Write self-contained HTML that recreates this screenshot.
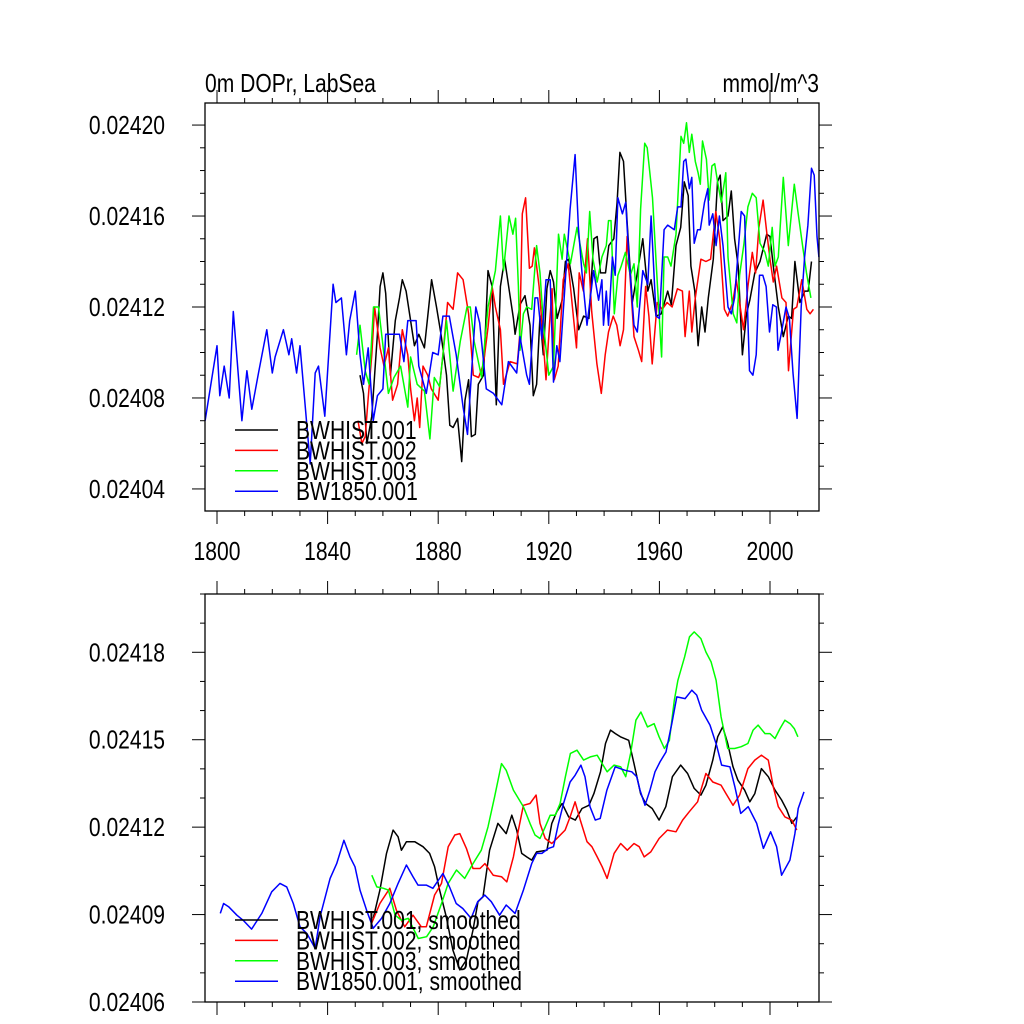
<!DOCTYPE html>
<html><head><meta charset="utf-8"><style>
html,body{margin:0;padding:0;background:#fff;}
svg{display:block;font-family:"Liberation Sans",sans-serif;}
</style></head><body>
<svg id="chart" width="1024" height="1024" viewBox="0 0 1024 1024" xmlns="http://www.w3.org/2000/svg">
<rect x="0" y="0" width="1024" height="1024" fill="#fff"/>
<text class="t" x="205" y="92" font-size="26">0m DOPr, LabSea</text>
<text class="t" x="819" y="92" font-size="26" text-anchor="end">mmol/m^3</text>
<g id="top"></g><g id="bot"></g>
</svg>
<script>
// values in units of 1e-5 mmol/m^3
const topBlackYears=[1851.7,1853,1854.2,1856,1858,1859,1860,1861,1862.7,1864.5,1866,1867,1868.4,1870,1871.4,1873,1875,1877.6,1879.4,1881,1883,1884.2,1885.4,1887,1888.5,1889.7,1891,1892,1893.4,1894.5,1896.4,1898,1899.5,1901,1902.5,1904,1905.6,1907.2,1907.8,1909.6,1911.4,1913.2,1914.4,1915.6,1916.8,1918,1919.3,1920.5,1921.7,1923,1924.8,1926,1927.2,1929,1930.8,1932.6,1934.5,1936.3,1937.5,1938.7,1940.5,1941.7,1943.5,1944.7,1945.7,1947,1948.4,1950.2,1952,1954,1955.8,1957,1958.8,1960.7,1963,1964.3,1966,1967.7,1969,1970.4,1971.4,1972.8,1974,1975.3,1976.5,1977.7,1979.5,1981,1982,1983,1984.8,1986,1987.2,1988.5,1990,1991.5,1992.7,1994.5,1996.4,1997.6,1998.8,2000,2001.2,2003,2004.8,2006.6,2007.8,2009,2010.8,2012.6,2013.8,2015];
const topBlackVals=[2409.0,2408.2,2406.0,2407.2,2410.8,2412.9,2413.5,2412.6,2409.0,2411.4,2412.4,2413.2,2412.7,2411.4,2410.3,2410.8,2410.2,2413.2,2412.0,2410.8,2409.0,2406.8,2406.7,2407.1,2405.2,2407.9,2408.8,2406.3,2406.4,2408.6,2409.0,2413.6,2412.9,2407.7,2412.9,2414.1,2412.8,2411.5,2410.8,2412.1,2412.5,2411.2,2408.1,2408.6,2411.6,2409.9,2412.8,2413.6,2413.1,2411.5,2412.3,2414.0,2414.1,2412.8,2411.0,2411.6,2411.5,2415.0,2415.1,2413.5,2413.5,2414.7,2415.0,2416.6,2418.8,2418.4,2415.6,2412.2,2413.5,2415.0,2412.7,2413.2,2411.6,2411.7,2412.7,2412.1,2414.7,2415.5,2417.5,2416.9,2413.8,2412.7,2410.3,2412.0,2410.9,2412.4,2414.1,2417.5,2417.8,2415.8,2416.0,2417.1,2415.0,2413.8,2409.9,2411.7,2412.3,2413.5,2414.0,2414.6,2415.2,2415.1,2413.8,2412.0,2410.7,2411.6,2411.5,2414.0,2412.2,2412.7,2412.7,2414.0];
const topRedYears=[1851,1852.4,1853.6,1854.7,1856,1857,1859,1860.4,1862,1863.5,1865.3,1867,1869,1870,1871.4,1872.4,1873.3,1874.5,1876.2,1877.5,1880,1881.7,1883.4,1885.4,1887,1889,1891,1892.7,1894.6,1896.4,1898,1899.5,1900.7,1902.5,1903.6,1906,1908.6,1909.5,1910.4,1911.6,1913,1914,1914.8,1916.5,1917.7,1919,1920.3,1921.2,1922,1923.4,1925.2,1927,1928.8,1930,1931,1932.5,1934,1935.5,1937.4,1939,1940.4,1941.6,1943.3,1944.6,1945.8,1947,1948.3,1949.5,1950.8,1952.4,1953.6,1955,1956.2,1957.4,1959.2,1961,1962.8,1964.6,1966.5,1968.3,1969.3,1970.8,1971.7,1973,1975,1976.8,1978.5,1980.4,1981.8,1983.5,1984.7,1986.5,1987.8,1989,1990.4,1992,1993.6,1994.8,1996,1997.5,1998.8,2000,2001.2,2002.4,2004.3,2005.8,2006.7,2008.5,2009.7,2011.5,2013.3,2014.5,2015.7];
const topRedVals=[2407.0,2406.0,2406.3,2408.0,2409.9,2412.0,2410.2,2409.4,2410.2,2407.9,2408.6,2411.0,2409.9,2408.4,2407.0,2408.0,2406.7,2409.4,2409.0,2408.4,2407.9,2409.9,2412.2,2411.9,2413.5,2413.2,2411.7,2409.0,2408.9,2409.5,2411.1,2412.9,2412.0,2411.0,2408.6,2409.6,2409.5,2410.8,2416.1,2416.8,2413.7,2413.8,2414.6,2412.9,2411.0,2408.8,2411.3,2412.8,2408.8,2409.4,2413.2,2413.9,2411.7,2410.2,2413.5,2412.7,2415.0,2411.8,2409.5,2408.2,2409.9,2410.9,2411.6,2411.2,2410.3,2411.0,2415.1,2413.1,2410.7,2410.1,2409.6,2412.9,2411.6,2409.5,2412.2,2411.9,2412.2,2412.0,2412.8,2412.7,2410.7,2412.7,2410.9,2412.4,2414.1,2414.0,2414.1,2416.2,2415.0,2411.9,2411.6,2412.2,2413.2,2412.2,2411.0,2412.9,2414.4,2413.5,2415.5,2416.7,2415.3,2414.1,2413.1,2413.8,2412.4,2412.2,2409.2,2411.9,2412.0,2413.2,2411.9,2411.7,2411.9];
const topGreenYears=[1850.5,1851.7,1853.6,1855,1856.6,1858.4,1860.4,1862,1864,1866.4,1869,1870,1872.4,1875,1877,1878.6,1880.5,1883,1885.4,1888,1890.4,1891.6,1893,1895.7,1898,1900.7,1902.5,1903.6,1905.6,1907,1908,1909,1909.6,1910.8,1912,1913.8,1915.6,1916.8,1918,1920,1921.7,1923.5,1924.8,1925.6,1927.8,1930.2,1932.6,1933.6,1934.8,1936,1937.5,1939.2,1940.8,1941.6,1942.5,1943.7,1945,1946.2,1947.7,1949.5,1950.8,1952,1953.2,1954.7,1955.6,1957.5,1959.3,1960.8,1961.7,1963,1964.2,1966,1967.8,1968.8,1969.8,1970.8,1971.7,1973,1974,1974.8,1975.6,1977,1978,1979,1980,1981.2,1982.4,1984,1984.8,1986.7,1988,1989,1990.6,1992,1993.6,1995,1996.4,1998.2,1999.4,2000.8,2001.8,2003,2004.8,2006.6,2008.8,2010.2,2012,2013.2,2014.8];
const topGreenVals=[2409.9,2411.2,2409.2,2408.6,2412.0,2412.0,2409.9,2408.2,2408.9,2409.4,2407.6,2409.8,2408.6,2408.3,2406.2,2408.9,2408.5,2411.4,2408.3,2410.5,2412.0,2412.0,2410.5,2408.9,2412.0,2413.6,2416.0,2413.6,2416.0,2415.2,2415.9,2412.9,2410.1,2411.7,2412.0,2411.9,2414.7,2413.5,2411.3,2409.0,2409.4,2415.2,2414.1,2415.2,2413.9,2415.5,2413.9,2413.5,2416.2,2414.1,2413.1,2414.2,2414.7,2415.8,2415.8,2411.7,2413.4,2413.8,2414.4,2413.4,2413.9,2412.0,2416.3,2419.2,2419.0,2416.8,2412.9,2409.8,2414.2,2414.2,2413.8,2415.2,2419.5,2419.2,2420.1,2418.8,2419.6,2418.4,2417.9,2417.4,2419.3,2418.5,2416.7,2418.2,2418.3,2417.4,2416.6,2417.9,2414.2,2411.7,2411.3,2413.4,2414.8,2416.4,2417.0,2416.8,2414.8,2414.4,2413.8,2415.5,2413.8,2414.2,2417.7,2414.7,2417.4,2416.1,2414.5,2413.5,2412.4];
const topBlueYears=[1795.7,1800,1801,1802.6,1804.4,1805.9,1809,1810.8,1812.6,1815,1818,1820,1821,1824,1826,1827,1828.8,1830,1833.7,1835.5,1836.7,1839,1842,1843,1845,1846.8,1848,1850,1851.7,1853,1854.7,1856.5,1858,1860,1861,1863.4,1866,1867.6,1869,1872,1873,1875.7,1878,1880,1881.7,1884,1886.5,1889,1890.6,1893.6,1895,1897.4,1900,1903,1905.4,1908.4,1909.6,1912,1913,1915,1916,1917.5,1919,1920.5,1921.7,1922.9,1924,1927.7,1929.5,1930.7,1932,1933.2,1933.8,1936.2,1938,1939.2,1939.8,1940.8,1941.6,1943,1944,1945,1946.6,1947.8,1949,1950.8,1952,1954,1955.8,1957,1958.8,1960,1961.7,1963,1965.4,1966.6,1967.8,1968.8,1969.6,1970.8,1971.7,1972.6,1973.8,1974.8,1976.3,1977.5,1978,1979.3,1980.5,1981.7,1983,1984.8,1986,1987.2,1989.6,1990.8,1992.6,1993.8,1995,1996.2,1997.4,1998.6,1999.8,2001,2002.3,2002.9,2004,2005.8,2007,2008.3,2009.8,2011.3,2012.5,2013.7,2015,2016,2017,2017.7];
const topBlueVals=[2407.0,2410.3,2408.1,2409.4,2408.0,2411.8,2407.0,2409.2,2407.5,2409.1,2411.0,2409.1,2409.8,2411.0,2409.9,2410.6,2409.1,2410.3,2405.1,2409.1,2409.4,2407.2,2413.0,2412.2,2412.4,2409.9,2411.4,2412.7,2409.9,2408.6,2410.2,2407.0,2408.1,2408.4,2410.8,2410.8,2410.8,2409.6,2411.4,2411.4,2409.4,2408.2,2410.0,2409.9,2411.6,2411.6,2409.9,2407.6,2406.4,2412.0,2411.3,2408.4,2408.2,2407.7,2409.6,2409.1,2410.7,2409.0,2408.6,2412.4,2412.4,2410.6,2413.2,2413.2,2408.7,2410.3,2409.6,2416.3,2418.7,2415.5,2413.5,2412.0,2411.2,2413.6,2412.3,2413.2,2411.2,2412.7,2411.2,2414.2,2413.4,2416.8,2416.1,2416.6,2414.1,2411.2,2410.9,2413.6,2413.0,2416.0,2411.6,2411.5,2415.4,2415.6,2415.4,2416.4,2416.4,2418.4,2418.5,2417.2,2417.7,2414.8,2415.4,2415.4,2416.6,2417.2,2415.6,2416.1,2414.7,2416.0,2414.7,2412.0,2411.7,2412.4,2416.2,2416.0,2409.2,2409.0,2409.9,2413.4,2413.4,2412.9,2410.9,2412.1,2412.0,2410.1,2410.8,2412.0,2411.5,2409.1,2407.1,2412.0,2414.2,2415.6,2418.1,2417.8,2415.1,2414.2];

const botBlackYears=[1856.5,1858.9,1861.3,1863.7,1865.5,1866.7,1868.5,1871.5,1874.5,1876.9,1878.7,1880.5,1882.9,1885.3,1887.8,1890.2,1892.6,1894.4,1896.2,1898.6,1901.6,1904.6,1906.6,1908.4,1910.2,1912,1913.8,1915.6,1919.3,1921.1,1922.9,1924.8,1927.2,1929.6,1932,1934.5,1936.3,1938.7,1940.5,1942.3,1944.1,1945.9,1948.9,1950.8,1953.2,1955,1957.4,1959.9,1962.3,1964.7,1967.7,1970.2,1972.6,1975,1976.8,1979.3,1981.1,1982.9,1984.7,1986.6,1988.4,1990.8,1992.7,1994.5,1996.9,1999.4,2001.8,2004.2,2006.1,2007.9,2009.7];
const botBlackVals=[2408.87,2409.84,2411.1,2411.9,2411.67,2411.21,2411.5,2411.5,2411.33,2411.1,2410.64,2409.84,2408.93,2407.78,2407.1,2407.44,2408.47,2409.44,2409.61,2411.21,2412.13,2411.78,2412.41,2411.9,2411.1,2410.98,2410.87,2411.15,2411.21,2412.13,2412.53,2412.81,2412.35,2412.24,2412.64,2412.75,2413.15,2413.9,2414.87,2415.33,2415.21,2415.1,2414.98,2414.18,2413.15,2412.81,2412.64,2412.24,2412.7,2413.73,2414.13,2413.84,2413.33,2413.1,2413.44,2414.3,2415.1,2415.44,2414.87,2414.07,2413.61,2413.27,2412.87,2413.15,2414.01,2413.73,2413.27,2412.93,2412.58,2412.13,2412.35];
const botRedYears=[1855.9,1858.9,1862.5,1864.9,1867.9,1870.9,1873.9,1875.7,1878.7,1881.2,1883.6,1886,1887.8,1890.2,1892.6,1895.1,1896.9,1899.9,1902.9,1904.8,1907.2,1909,1910.8,1913.2,1915.4,1916.8,1918.7,1921.1,1923.5,1925.9,1927.7,1929.5,1931.4,1933.8,1935.6,1937.5,1939.3,1941.1,1943.6,1946,1948.4,1950.8,1952.7,1954.5,1956.9,1959.9,1962.9,1966,1968.4,1970.8,1973.8,1975,1976.8,1979.3,1982.3,1984.1,1986.6,1989,1992,1994.5,1996.9,1999.4,2001.2,2003,2005.4,2007.9,2009.7];
const botRedVals=[2408.7,2409.38,2409.9,2409.15,2408.58,2408.98,2408.58,2408.58,2409.67,2410.07,2411.33,2411.73,2411.78,2411.27,2410.58,2410.58,2410.75,2410.35,2410.3,2410.12,2410.98,2411.9,2412.75,2412.81,2413.1,2412.13,2411.61,2411.44,2411.67,2411.9,2412.35,2412.87,2412.24,2411.5,2411.33,2410.98,2410.64,2410.24,2411.1,2411.44,2411.21,2411.44,2411.33,2410.98,2411.15,2411.61,2411.9,2411.84,2412.24,2412.53,2412.87,2413.27,2413.84,2413.55,2413.44,2413.15,2412.75,2413.1,2414.01,2414.3,2414.47,2414.3,2413.38,2412.7,2412.35,2412.24,2411.9];
const botGreenYears=[1856,1857.8,1860.2,1862,1864.4,1866.8,1869.2,1872.8,1875.8,1878.2,1881.2,1883.6,1886.6,1889.6,1892.6,1895.6,1898,1900.4,1902.9,1904.6,1907.2,1910.8,1913.2,1915,1916.8,1918.7,1920.5,1922.3,1924.1,1926,1927.8,1930.2,1932.6,1935,1937.5,1939.3,1941.1,1943.6,1946,1947.8,1949.6,1951.5,1953.3,1955.7,1958.1,1959.9,1961.8,1963.6,1965.4,1966.7,1969.1,1970.9,1972.6,1975,1976.8,1978.7,1980.5,1982.3,1984.7,1987.2,1989.6,1992,1993.9,1995.7,1998.2,2000,2001.8,2003.6,2005.4,2007.3,2008.8,2010.1];
const botGreenVals=[2410.35,2409.95,2409.9,2409.84,2408.98,2408.8,2408.87,2408.18,2408.24,2408.58,2409.38,2410.07,2410.53,2410.24,2410.75,2411.21,2412.01,2413.04,2414.18,2413.95,2413.27,2412.7,2412.13,2411.73,2411.61,2412.01,2412.41,2412.41,2412.81,2413.73,2414.53,2414.64,2414.3,2414.41,2414.47,2414.18,2413.9,2414.13,2414.07,2413.73,2414.53,2415.67,2415.95,2415.44,2415.55,2415.1,2414.7,2414.98,2416.35,2417.04,2417.84,2418.53,2418.7,2418.47,2418.01,2417.67,2417.04,2415.78,2414.7,2414.7,2414.76,2414.87,2415.33,2415.5,2415.21,2415.21,2415.04,2415.38,2415.67,2415.55,2415.38,2415.1];
const botBlueYears=[1801.2,1802.4,1804.2,1807.2,1809.5,1812.5,1816.2,1819.8,1822.8,1825.2,1827.6,1830,1832.5,1835.5,1837.3,1840.9,1843.3,1845.9,1848.1,1849.9,1851.7,1854.1,1856.5,1859.5,1862.5,1865.5,1868.5,1870.9,1872.7,1875.7,1878.1,1881.7,1884.1,1886.5,1888.9,1891.9,1894.3,1896.8,1899.2,1902.2,1904.6,1907.8,1910.8,1913.8,1915.6,1917.5,1919.9,1921.7,1923.5,1925.3,1927.7,1929.5,1931.6,1933.1,1934.9,1936.8,1938.6,1941,1944,1945.8,1947.6,1950,1951.8,1953,1954.8,1956.6,1958.4,1960.2,1962.4,1964.5,1966.3,1969.3,1971.7,1973.5,1975.3,1978.3,1980.7,1982.5,1985.5,1987.3,1989.4,1992.1,1995.2,1997.6,2000.2,2002.4,2004.2,2007.2,2009,2010.2,2012.3];
const botBlueVals=[2409.04,2409.38,2409.27,2408.98,2408.8,2408.5,2409.04,2409.78,2410.07,2409.95,2409.38,2408.58,2408.35,2407.84,2408.93,2410.24,2410.75,2411.55,2410.98,2410.64,2409.84,2409.15,2408.53,2408.87,2409.38,2410.07,2410.7,2410.3,2410.01,2410.01,2409.9,2410.41,2409.95,2409.38,2409.21,2408.87,2409.44,2409.67,2409.44,2408.98,2409.33,2409.04,2409.84,2410.75,2411.1,2411.1,2411.27,2411.33,2412.13,2412.81,2413.55,2413.78,2414.13,2413.73,2412.7,2412.24,2412.3,2413.27,2414.07,2414.01,2413.95,2413.9,2413.73,2413.27,2412.75,2413.27,2413.9,2414.24,2414.58,2415.55,2416.47,2416.41,2416.7,2416.53,2416.01,2415.5,2414.81,2414.13,2414.07,2413.38,2412.47,2412.7,2412.13,2411.27,2411.84,2411.33,2410.35,2410.87,2411.78,2412.64,2413.21];

const xTickVals=[1800,1840,1880,1920,1960,2000];
const topYTicks=[2404,2408,2412,2416,2420];
const topYLabels=["0.02404","0.02408","0.02412","0.02416","0.02420"];
const botYTicks=[2406,2409,2412,2415,2418];
const botYLabels=["0.02406","0.02409","0.02412","0.02415","0.02418"];
const topLegend=["BWHIST.001","BWHIST.002","BWHIST.003","BW1850.001"];
const botLegend=["BWHIST.001, smoothed","BWHIST.002, smoothed","BWHIST.003, smoothed","BW1850.001, smoothed"];
const colors=["#000000","#ff0000","#00ff00","#0000ff"];

const NS="http://www.w3.org/2000/svg";
const L=205,R=819;
const xMin=1795.66,xMax=2017.72;
const FS=26;
function xs(v){return L+(v-xMin)/(xMax-xMin)*(R-L);}
function mk(tag,attrs,parent){const e=document.createElementNS(NS,tag);for(const k in attrs)e.setAttribute(k,attrs[k]);parent.appendChild(e);return e;}

function panel(g,T,B,yMin,yMax,yMinorStep,ticks,labels,series,legend,legY,showXLabels,name){
  const ys=v=>B-(v-yMin)/(yMax-yMin)*(B-T);
  series.forEach((s,i)=>{
    const p=mk('polyline',{points:s[0].map((yr,j)=>xs(yr).toFixed(1)+','+ys(s[1][j]).toFixed(1)).join(' '),fill:'none',stroke:colors[i],'stroke-width':1.5,'stroke-linejoin':'round'},g);
    
    
  });
  const fr=mk('rect',{x:L,y:T,width:R-L,height:B-T,fill:'none',stroke:'#000','stroke-width':1.3},g);
  
  
  for(let v=Math.ceil(yMin);v<=yMax+1e-9;v+=yMinorStep){
    const major=ticks.some(t=>Math.abs(t-v)<1e-6);const len=major?13:5;const y=ys(v);
    mk('line',{x1:L-len,y1:y,x2:L,y2:y,stroke:'#000','stroke-width':1},g);
    mk('line',{x1:R,y1:y,x2:R+len,y2:y,stroke:'#000','stroke-width':1},g);
  }
  ticks.forEach((t,i)=>{
    const tx=mk('text',{class:'t',x:165,y:ys(t)+9,'font-size':FS,'text-anchor':'end'},g);tx.textContent=labels[i];
    
    
  });
  for(let yr=1800;yr<=2010;yr+=10){
    const major=(yr-1800)%40===0;const len=major?13:5;const x=xs(yr);
    mk('line',{x1:x,y1:T-len,x2:x,y2:T,stroke:'#000','stroke-width':1},g);
    mk('line',{x1:x,y1:B,x2:x,y2:B+len,stroke:'#000','stroke-width':1},g);
  }
  if(showXLabels) xTickVals.forEach(v=>{
    const tx=mk('text',{class:'t',x:xs(v),y:B+49,'font-size':FS,'text-anchor':'middle'},g);tx.textContent=v;
    
    
  });
  legend.forEach((lab,i)=>{
    const y=legY+i*20.4;
    const ln=mk('line',{x1:235,y1:y,x2:278,y2:y,stroke:colors[i],'stroke-width':1.5},g);
    
    
    const tx=mk('text',{class:'t',x:296,y:y+9,'font-size':FS},g);tx.textContent=lab;
    
    
  });
}
panel(document.getElementById('top'),103,511,2403.03,2420.97,1,topYTicks,topYLabels,
  [[topBlackYears,topBlackVals],[topRedYears,topRedVals],[topGreenYears,topGreenVals],[topBlueYears,topBlueVals]],topLegend,430,true,'top');
panel(document.getElementById('bot'),594,1002,2406,2420,1,botYTicks,botYLabels,
  [[botBlackYears,botBlackVals],[botRedYears,botRedVals],[botGreenYears,botGreenVals],[botBlueYears,botBlueVals]],botLegend,920,false,'bottom');
document.querySelectorAll('text.t').forEach(t=>{
  const w=t.getComputedTextLength();
  t.setAttribute('textLength',(w*0.81).toFixed(1));
  t.setAttribute('lengthAdjust','spacingAndGlyphs');
});
</script>
</body></html>
